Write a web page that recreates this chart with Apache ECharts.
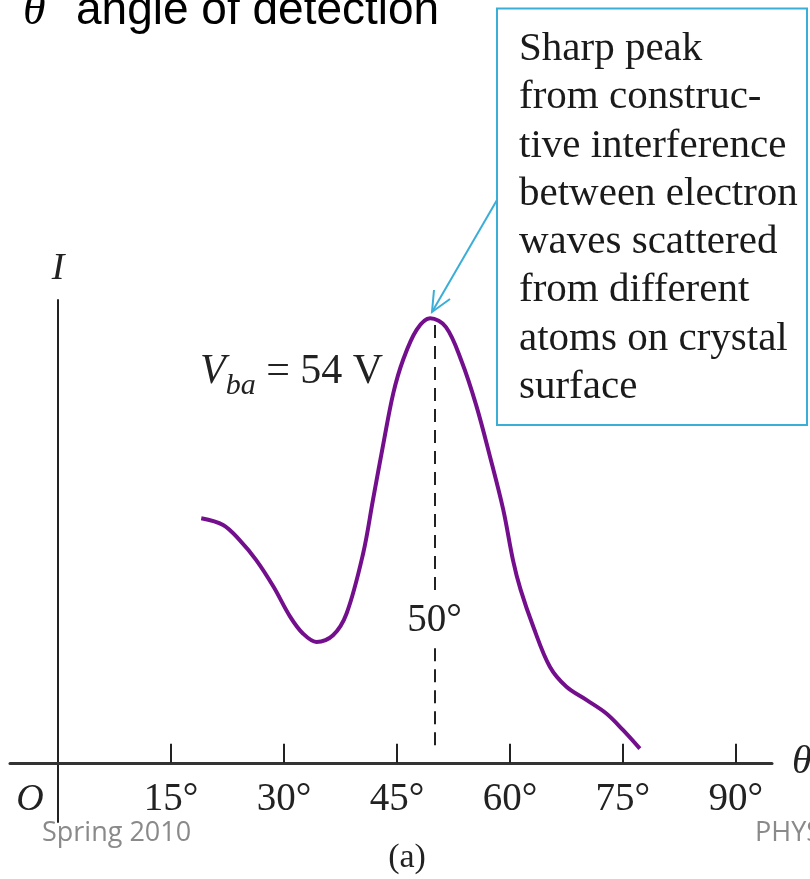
<!DOCTYPE html>
<html>
<head>
<meta charset="utf-8">
<title>Electron diffraction intensity</title>
<script src="https://cdn.jsdelivr.net/npm/echarts@6.0.0/dist/echarts.min.js"></script>
<style>html,body{margin:0;padding:0;background:#fff}</style>
</head>
<body>
<div id="main" style="width:810px;height:879px"></div>
<script>
// detector angle (deg) and measured intensity (arbitrary units, peak = 100)
var theta = [19.0, 21.9, 24.1, 26.3, 28.6, 30.8, 32.5, 34.3, 36.5, 38.3, 40.5, 41.8, 43.2, 44.5, 45.8, 47.6, 49.4,
             51.5, 53.6, 55.5, 57.3, 59.1, 60.4, 61.4, 63.1, 65.3, 67.5, 70.2, 72.8, 75.0, 77.25];
var intensity = [55.0, 53.5, 50.1, 45.6, 39.6, 32.9, 29.1, 27.2, 28.7, 33.6, 47.1, 59.1, 71.9, 83.1, 90.6, 97.4, 100,
                 98.0, 90.2, 80.5, 69.2, 57.0, 45.6, 39.0, 30.6, 21.6, 17.1, 14.1, 11.1, 7.4, 3.2];
var tickAngles = [15, 30, 45, 60, 75, 90];
var peakAngle = 50;
var boxLines = ['Sharp peak', 'from construc-', 'tive interference', 'between electron',
                'waves scattered', 'from different', 'atoms on crystal', 'surface'];

var serif = '"Liberation Serif", "Times New Roman", serif';
var cyan = '#3aaed6';

var curve = theta.map(function (t, i) { return [t, intensity[i]]; });

var chart = echarts.init(document.getElementById('main'));
chart.setOption({
    animation: false,
    backgroundColor: '#fff',
    grid: { left: 10, right: 38, top: 300, bottom: 57, containLabel: false, outerBoundsMode: 'none' },
    xAxis: {
        type: 'value',
        min: -6.4,
        max: 94.8,
        name: 'θ',
        nameLocation: 'end',
        nameGap: 20,
        nameTextStyle: { fontFamily: serif, fontStyle: 'italic', fontSize: 40, color: '#222' },
        axisLine: { onZero: true, lineStyle: { color: '#333', width: 3 } },
        axisTick: { show: true, inside: true, length: 19, customValues: tickAngles, lineStyle: { color: '#222', width: 2 } },
        axisLabel: {
            customValues: tickAngles,
            margin: -42,
            fontFamily: serif,
            fontSize: 39,
            color: '#222',
            formatter: function (v) { return v + '°'; }
        },
        splitLine: { show: false }
    },
    yAxis: {
        type: 'value',
        min: -13.3,
        max: 104.1,
        name: 'I',
        nameLocation: 'end',
        nameGap: 12,
        nameTextStyle: { fontFamily: serif, fontStyle: 'italic', fontSize: 38, color: '#222' },
        axisLine: { onZero: true, lineStyle: { color: '#222', width: 2 } },
        axisTick: { show: false },
        axisLabel: { show: false },
        splitLine: { show: false }
    },
    series: [{
        type: 'line',
        data: curve,
        smooth: 0.35,
        showSymbol: false,
        lineStyle: { color: '#730f8c', width: 4 },
        markLine: {
            silent: true,
            symbol: ['none', 'none'],
            label: { show: false },
            lineStyle: { color: '#222', width: 2, type: [13, 8] },
            data: [
                [{ coord: [peakAngle, 98.5] }, { coord: [peakAngle, 37.7] }],
                [{ coord: [peakAngle, 25.8] }, { coord: [peakAngle, 2.9] }]
            ]
        },
        markPoint: {
            silent: true,
            symbol: 'circle',
            symbolSize: 1,
            itemStyle: { color: 'rgba(0,0,0,0)' },
            data: [
                {
                    coord: [peakAngle, 32.0],
                    label: { show: true, position: 'inside', formatter: peakAngle + '°',
                             fontFamily: serif, fontSize: 39, color: '#222' }
                },
                {
                    coord: [31.0, 88.0],
                    label: {
                        show: true, position: 'inside',
                        formatter: '{v|V}{s|ba}{n| = 54 V}',
                        rich: {
                            v: { fontFamily: serif, fontStyle: 'italic', fontSize: 42, color: '#222', lineHeight: 59 },
                            s: { fontFamily: serif, fontStyle: 'italic', fontSize: 30, color: '#222', lineHeight: 59, verticalAlign: 'bottom' },
                            n: { fontFamily: serif, fontSize: 42, color: '#222', lineHeight: 59 }
                        }
                    }
                }
            ]
        }
    }],
    graphic: [
        { type: 'text', left: 23, top: -11, style: { text: 'θ', font: 'italic 46px ' + serif, fill: '#000' } },
        { type: 'text', left: 76, top: -12, style: { text: 'angle of detection', font: '46px "Liberation Sans", Arial, sans-serif', fill: '#000' } },
        { type: 'rect', shape: { x: 497, y: 8.5, width: 310, height: 416.5 }, style: { fill: '#fff', stroke: cyan, lineWidth: 2 } },
        { type: 'text', x: 519, y: 25, style: { text: boxLines.join('\n'), font: '41px ' + serif, lineHeight: 48.3, fill: '#1a1a1a', verticalAlign: 'top' } },
        { type: 'polyline', shape: { points: [[497, 200], [432, 312]] }, style: { stroke: cyan, lineWidth: 2, fill: null } },
        { type: 'polyline', shape: { points: [[434, 290], [432, 312], [450, 299]] }, style: { stroke: cyan, lineWidth: 2, fill: null } },
        { type: 'text', x: 30, y: 800, style: { text: 'O', font: 'italic 38px ' + serif, fill: '#222', align: 'center', verticalAlign: 'middle' } },
        { type: 'text', x: 42, y: 833, style: { text: 'Spring 2010', font: '27px "Open Sans", sans-serif', fill: '#8a8a8a', verticalAlign: 'middle' } },
        { type: 'text', x: 755, y: 833, style: { text: 'PHYS', font: '27px "Open Sans", sans-serif', fill: '#8a8a8a', verticalAlign: 'middle' } },
        { type: 'text', x: 407, y: 858, style: { text: '(a)', font: '34px ' + serif, fill: '#222', align: 'center', verticalAlign: 'middle' } }
    ]
});
</script>
</body>
</html>
